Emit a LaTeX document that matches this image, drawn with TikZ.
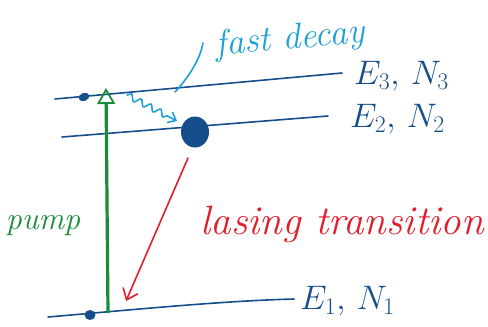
\RequirePackage{fix-cm}
\documentclass[tikz,border=0pt]{standalone}
\usetikzlibrary{arrows.meta,decorations.pathmorphing,shapes.geometric}
\definecolor{lvl}{RGB}{22,78,140}
\definecolor{pumpg}{RGB}{24,140,56}
\definecolor{lasr}{RGB}{226,30,45}
\definecolor{fastc}{RGB}{30,160,215}
\begin{document}
\begin{tikzpicture}[x=1pt,y=-1pt,
  level/.style={lvl, line width=1.6pt, line cap=round},
  lbl/.style={lvl, inner sep=0pt, font=\fontsize{34}{38}\selectfont},
  dot/.style={ellipse, fill=lvl, draw=none, inner sep=0pt},
  hand/.style={inner sep=0pt, font=\fontsize{#1}{#1}\selectfont\itshape}]
\useasboundingbox (0,0) rectangle (488,327);
% energy levels
\coordinate (e3a) at (55,99);  \coordinate (e3b) at (342,73);
\coordinate (e2a) at (62,137); \coordinate (e2b) at (328,116);
\coordinate (e1a) at (48,317); \coordinate (e1b) at (294,299);
\draw[level] (e3a) -- (e3b);
\draw[level] (e2a) -- (e2b);
\draw[level] (e1a) .. controls (130,310) and (220,301) .. (e1b);
% labels
\node[lbl, anchor=west] (l3) at (354,76) {$E_3,\,N_3$};
\node[lbl, anchor=west] (l2) at (350,119) {$E_2,\,N_2$};
\node[lbl, anchor=west] (l1) at (300,301) {$E_1,\,N_1$};
% populations
\node[dot, minimum width=11pt, minimum height=8pt, rotate=20] (d3) at (84,97) {};
\node[dot, minimum width=28pt, minimum height=31pt] (d2) at (195,132) {};
\node[dot, minimum width=11pt, minimum height=10pt] (d1) at (90,315) {};
% pump
\coordinate (p1) at (108,313);
\coordinate (p3) at (106,88);
\draw[pumpg, line width=3.2pt, -{Triangle[open, length=16pt, width=18pt, line width=1.8pt]}] (p1) -- (p3);
\node[hand=32, pumpg] (pump) at (43,226) {pump};
% fast decay
\coordinate (w1) at (127,95);
\coordinate (w2) at (177,121);
\draw[fastc, line width=1.6pt, line cap=round,
  decorate, decoration={snake, amplitude=3pt, segment length=11pt, post length=6pt},
  -{Straight Barb[length=7pt, width=12pt]}] (w1) -- (w2);
\coordinate (b1) at (203,43);
\coordinate (b2) at (175,92);
\draw[fastc, line width=1.6pt, line cap=round] (b1) .. controls (200,60) and (188,78) .. (b2);
\node[hand=36, fastc, rotate=5] (fd) at (290,40) {fast decay};
% lasing
\coordinate (r1) at (188,158);
\coordinate (r2) at (126,301);
\draw[lasr, line width=1.6pt, line cap=round, -{Straight Barb[length=10pt, width=16pt]}] (r1) -- (r2);
\node[hand=41, lasr] (lt) at (342,224) {lasing transition};
\end{tikzpicture}
\end{document}
